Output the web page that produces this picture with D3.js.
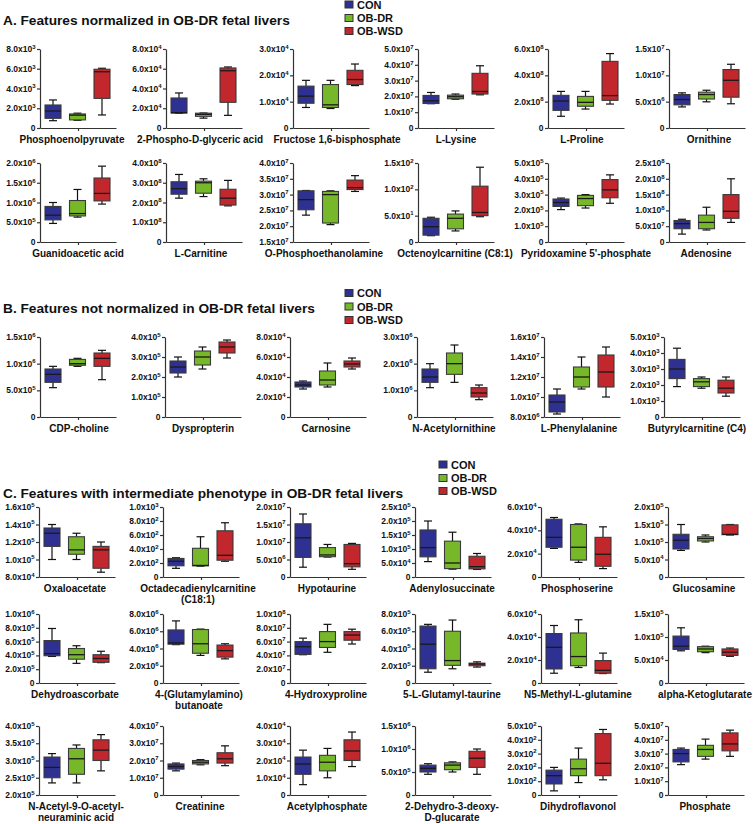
<!DOCTYPE html>
<html><head><meta charset="utf-8">
<script src="https://cdn.jsdelivr.net/npm/d3@7"></script>
<style>body{margin:0;background:#fff} svg{display:block} text{font-family:"Liberation Sans",Arial,sans-serif;font-weight:bold;fill:#111}</style>
</head><body><svg id="c" width="753" height="824"></svg>
<script>
// ---------- DATA ----------
const groups = ["CON", "OB-DR", "OB-WSD"];
const colors = ["#2e3192", "#77b82a", "#c1272d"];

// Section A
const namesA = ["Phosphoenolpyruvate", "2-Phospho-D-glyceric acid", "Fructose 1,6-bisphosphate", "L-Lysine", "L-Proline", "Ornithine",
  "Guanidoacetic acid", "L-Carnitine", "O-Phosphoethanolamine", "Octenoylcarnitine (C8:1)", "Pyridoxamine 5'-phosphate", "Adenosine"];
const yMinA = [0, 0, 0, 0, 0, 0, 0, 0, 1.5e7, 0, 0, 0];
const yMaxA = [8e3, 8e4, 3e4, 5e7, 6e8, 1.5e7, 2e6, 4e8, 4e7, 150, 5e5, 2.5e8];
const yStepA = [2e3, 2e4, 1e4, 1e7, 2e8, 5e6, 5e5, 1e8, 5e6, 50, 1e5, 5e7];
// [whisker low, Q1, median, Q3, whisker high]
const conA = [[0.74e3, 0.98e3, 1.72e3, 2.33e3, 2.84e3], [1.5e4, 1.52e4, 1.55e4, 3.04e4, 3.55e4], [0.78e4, 0.94e4, 1.21e4, 1.59e4, 1.81e4],
  [1.54e7, 1.55e7, 1.72e7, 2.06e7, 2.25e7], [0.89e8, 1.34e8, 2.05e8, 2.48e8, 2.78e8], [4.0e6, 4.4e6, 5.4e6, 6.35e6, 6.67e6],
  [0.47e6, 0.56e6, 0.68e6, 0.9e6, 1.0e6], [2.22e8, 2.42e8, 2.7e8, 3.05e8, 3.42e8], [2.35e7, 2.52e7, 2.84e7, 3.12e7, 3.13e7],
  [12, 13, 29, 45, 47], [2.05e5, 2.25e5, 2.5e5, 2.72e5, 2.78e5], [0.25e8, 0.42e8, 0.58e8, 0.68e8, 0.72e8]];
const drA = [[0.78e3, 0.82e3, 1.3e3, 1.42e3, 1.5e3], [1.0e4, 1.18e4, 1.38e4, 1.5e4, 1.52e4], [0.74e4, 0.78e4, 0.88e4, 1.65e4, 1.81e4],
  [1.82e7, 1.85e7, 1.98e7, 2.08e7, 2.15e7], [1.44e8, 1.65e8, 1.95e8, 2.4e8, 2.78e8], [4.97e6, 5.5e6, 6.35e6, 6.8e6, 7.17e6],
  [0.63e6, 0.66e6, 0.72e6, 1.05e6, 1.33e6], [2.3e8, 2.47e8, 3.0e8, 3.08e8, 3.2e8], [2.05e7, 2.1e7, 3.0e7, 3.1e7, 3.12e7],
  [21, 25, 45, 53, 59], [2.15e5, 2.3e5, 2.75e5, 2.95e5, 3.0e5], [0.38e8, 0.42e8, 0.62e8, 0.85e8, 1.1e8]];
const wsdA = [[1.32e3, 3.0e3, 5.7e3, 5.95e3, 6.05e3], [1.28e4, 2.6e4, 5.8e4, 6.08e4, 6.18e4], [1.61e4, 1.65e4, 1.84e4, 2.19e4, 2.43e4],
  [2.1e7, 2.15e7, 2.31e7, 3.46e7, 3.94e7], [1.82e8, 2.1e8, 2.46e8, 5.06e8, 5.65e8], [4.6e6, 5.85e6, 9.06e6, 11.1e6, 12.1e6],
  [0.96e6, 1.04e6, 1.23e6, 1.62e6, 1.92e6], [1.83e8, 1.87e8, 2.22e8, 2.67e8, 3.12e8], [3.1e7, 3.16e7, 3.22e7, 3.46e7, 3.6e7],
  [48, 50, 56, 106, 142], [2.45e5, 2.8e5, 3.3e5, 3.95e5, 4.25e5], [0.62e8, 0.75e8, 0.97e8, 1.5e8, 2.0e8]];

// Section B
const namesB = ["CDP-choline", "Dyspropterin", "Carnosine", "N-Acetylornithine", "L-Phenylalanine", "Butyrylcarnitine (C4)"];
const yMinB = [0, 0, 0, 0, 8e6, 0];
const yMaxB = [1.5e6, 4e5, 8e4, 3e6, 1.6e7, 5e3];
const yStepB = [5e5, 1e5, 2e4, 1e6, 2e6, 1e3];
const conB = [[0.55e6, 0.65e6, 0.8e6, 0.9e6, 0.95e6], [2.0e5, 2.2e5, 2.5e5, 2.8e5, 3.0e5], [2.8e4, 3.0e4, 3.2e4, 3.5e4, 3.6e4],
  [1.1e6, 1.3e6, 1.5e6, 1.8e6, 2.0e6], [0.83e7, 0.85e7, 0.95e7, 1.02e7, 1.08e7], [1.9e3, 2.4e3, 3.0e3, 3.6e3, 4.3e3]];
const drB = [[0.95e6, 0.97e6, 1.0e6, 1.08e6, 1.1e6], [2.4e5, 2.6e5, 3.0e5, 3.3e5, 3.5e5], [3.0e4, 3.2e4, 3.7e4, 4.6e4, 5.4e4],
  [1.3e6, 1.6e6, 2.0e6, 2.4e6, 2.7e6], [1.08e7, 1.1e7, 1.2e7, 1.3e7, 1.4e7], [1.8e3, 1.9e3, 2.2e3, 2.4e3, 2.5e3]];
const wsdB = [[0.7e6, 0.95e6, 1.1e6, 1.2e6, 1.25e6], [2.95e5, 3.2e5, 3.5e5, 3.75e5, 3.85e5], [4.8e4, 5.0e4, 5.3e4, 5.6e4, 5.9e4],
  [0.65e6, 0.75e6, 0.9e6, 1.1e6, 1.2e6], [1.0e7, 1.1e7, 1.25e7, 1.42e7, 1.5e7], [1.3e3, 1.5e3, 1.8e3, 2.3e3, 2.5e3]];

// Section C
const namesC = ["Oxaloacetate", "Octadecadienylcarnitine\n(C18:1)", "Hypotaurine", "Adenylosuccinate", "Phosphoserine", "Glucosamine",
  "Dehydroascorbate", "4-(Glutamylamino)\nbutanoate", "4-Hydroxyproline", "5-L-Glutamyl-taurine", "N5-Methyl-L-glutamine", "alpha-Ketoglutarate",
  "N-Acetyl-9-O-acetyl-\nneuraminic acid", "Creatinine", "Acetylphosphate", "2-Dehydro-3-deoxy-\nD-glucarate", "Dihydroflavonol", "Phosphate"];
const yMinC = [8e4, 0, 0, 0, 0, 0, 0, 0, 0, 0, 0, 0, 2e5, 0, 0, 0, 0, 0];
const yMaxC = [1.6e5, 1e3, 2e7, 2.5e5, 6e4, 2e5, 1e6, 8e6, 1e8, 8e5, 6e4, 1.5e5, 4e5, 4e7, 4e4, 1.5e6, 5e2, 5e7];
const yStepC = [2e4, 2e2, 5e6, 5e4, 2e4, 5e4, 2e5, 2e6, 2e7, 2e5, 2e4, 5e4, 5e4, 1e7, 1e4, 5e5, 1e2, 1e7];
const conC = [[1.0e5, 1.15e5, 1.3e5, 1.36e5, 1.4e5], [124, 160, 225, 265, 275], [0.28e7, 0.56e7, 1.12e7, 1.52e7, 1.8e7],
  [0.55e5, 0.72e5, 1.05e5, 1.68e5, 2.0e5], [2.45e4, 2.55e4, 3.4e4, 4.95e4, 5.1e4], [0.76e5, 0.8e5, 1.05e5, 1.22e5, 1.5e5],
  [3.85e5, 3.95e5, 4.25e5, 6.15e5, 7.9e5], [4.45e6, 4.5e6, 4.65e6, 6.15e6, 7.2e6], [4.1e7, 4.15e7, 5.25e7, 6.0e7, 6.5e7],
  [1.25e5, 1.65e5, 4.5e5, 6.6e5, 6.8e5], [0.85e4, 1.22e4, 3.1e4, 4.3e4, 5.0e4], [0.7e5, 0.73e5, 0.8e5, 1.02e5, 1.2e5],
  [2.35e5, 2.5e5, 2.8e5, 3.1e5, 3.2e5], [1.4e7, 1.5e7, 1.65e7, 1.8e7, 1.85e7], [0.6e4, 1.2e4, 1.8e4, 2.2e4, 2.6e4],
  [0.45e6, 0.5e6, 0.58e6, 0.65e6, 0.68e6], [30, 80, 140, 180, 200], [2.2e7, 2.4e7, 3.0e7, 3.3e7, 3.4e7]];
const drC = [[1.0e5, 1.06e5, 1.11e5, 1.26e5, 1.3e5], [155, 160, 165, 410, 575], [0.57e7, 0.58e7, 0.63e7, 0.84e7, 0.93e7],
  [0.28e5, 0.3e5, 0.5e5, 1.28e5, 1.6e5], [1.25e4, 1.45e4, 2.55e4, 4.5e4, 4.55e4], [1.0e5, 1.03e5, 1.1e5, 1.15e5, 1.2e5],
  [2.85e5, 3.45e5, 4.1e5, 5.0e5, 5.4e5], [3.2e6, 3.45e6, 4.55e6, 6.2e6, 6.25e6], [4.45e7, 5.15e7, 6.0e7, 7.45e7, 8.5e7],
  [1.65e5, 2.05e5, 2.6e5, 6.0e5, 7.3e5], [1.35e4, 1.5e4, 2.3e4, 4.35e4, 5.5e4], [0.66e5, 0.68e5, 0.74e5, 0.79e5, 0.8e5],
  [2.35e5, 2.6e5, 3.05e5, 3.35e5, 3.45e5], [1.75e7, 1.8e7, 1.9e7, 2.0e7, 2.05e7], [1.0e4, 1.4e4, 1.9e4, 2.3e4, 2.7e4],
  [0.5e6, 0.55e6, 0.65e6, 0.7e6, 0.72e6], [90, 140, 190, 260, 340], [2.6e7, 2.8e7, 3.3e7, 3.6e7, 4.05e7]];
const wsdC = [[0.855e5, 0.9e5, 1.11e5, 1.15e5, 1.2e5], [225, 240, 310, 660, 775], [0.22e7, 0.29e7, 0.38e7, 0.93e7, 0.96e7],
  [0.27e5, 0.29e5, 0.37e5, 0.74e5, 0.84e5], [0.72e4, 0.92e4, 1.95e4, 3.4e4, 4.3e4], [1.2e5, 1.21e5, 1.22e5, 1.49e5, 1.5e5],
  [2.95e5, 3.0e5, 3.55e5, 4.1e5, 4.6e5], [2.8e6, 3.0e6, 3.75e6, 4.4e6, 4.55e6], [5.65e7, 6.2e7, 6.95e7, 7.45e7, 7.8e7],
  [1.85e5, 2.0e5, 2.2e5, 2.3e5, 2.45e5], [0.82e4, 0.85e4, 1.1e4, 1.95e4, 2.6e4], [0.58e5, 0.6e5, 0.67e5, 0.74e5, 0.76e5],
  [2.7e5, 3.0e5, 3.3e5, 3.6e5, 3.75e5], [1.7e7, 1.85e7, 2.1e7, 2.45e7, 2.85e7], [1.65e4, 2.0e4, 2.55e4, 3.2e4, 3.65e4],
  [0.45e6, 0.6e6, 0.8e6, 0.95e6, 1.0e6], [110, 140, 230, 445, 475], [2.8e7, 3.2e7, 3.7e7, 4.5e7, 4.7e7]];

const titles = ["A. Features normalized in OB-DR fetal livers", "B. Features not normalized in OB-DR fetal livers",
  "C. Features with intermediate phenotype in OB-DR fetal livers"];

// ---------- LAYOUT ----------
const sections = [
  { title: titles[0], titleY: 25, legX: 345, legY: [4.5, 18, 31], rows: [[49, 128], [163, 242]],
    cols: [40, 166, 293, 418, 548, 669], labelDx: [-6, -4, 6, 0, -4, 2, 0, -3, -7, -1, 0, -1],
    names: namesA, yMin: yMinA, yMax: yMaxA, yStep: yStepA, data: [conA, drA, wsdA] },
  { title: titles[1], titleY: 313, legX: 345, legY: [293, 306.5, 320], rows: [[337, 417]],
    cols: [40, 165, 290, 417, 544, 664], labelDx: [1, 0, -2, -1, -3, -5],
    names: namesB, yMin: yMinB, yMax: yMaxB, yStep: yStepB, data: [conB, drB, wsdB] },
  { title: titles[2], titleY: 498, legX: 439, legY: [464.5, 478, 491], rows: [[507, 577], [614, 683], [726, 795]],
    cols: [39, 163, 290, 415, 541, 668], labelDx: [-2, -3, -1, -1, -2, -2, -2, -2, -2, -1, -1, -1, -1, -1, -1, -1, -1, -1],
    names: namesC, yMin: yMinC, yMax: yMaxC, yStep: yStepC, data: [conC, drC, wsdC] }
];

const svg = d3.select("#c");
const AX = "#333";

function fmt(t, v) {
  if (Math.abs(v) < 1e-12) { t.text("0"); return; }
  const e = Math.floor(Math.log10(v) + 1e-9);
  const m = v / Math.pow(10, e);
  t.append("tspan").text(m.toFixed(1) + "x10");
  t.append("tspan").attr("dy", -3.2).attr("font-size", 6).text(e);
}

function panel(x0, top, bottom, name, ymin, ymax, step, stats, ldx) {
  const g = svg.append("g");
  const W = 76;
  const y = d3.scaleLinear().domain([ymin, ymax]).range([bottom, top]);
  const x = d3.scalePoint().domain(groups).range([x0 + 13, x0 + 62]);
  const n = Math.round((ymax - ymin) / step);
  const ticks = d3.range(0, n + 1).map(i => ymin + i * step);

  const ya = g.append("g").attr("transform", `translate(${x0},0)`)
    .call(d3.axisLeft(y).tickValues(ticks).tickSize(3).tickSizeOuter(0).tickFormat(""));
  ya.selectAll("path,line").attr("stroke", AX).attr("stroke-width", 1.2);

  const xs = d3.scaleLinear().domain([0, 1]).range([x0, x0 + W]);
  const xa = g.append("g").attr("transform", `translate(0,${bottom})`)
    .call(d3.axisBottom(xs).tickValues([0.5]).tickSize(3).tickSizeOuter(0).tickFormat(""));
  xa.selectAll("path,line").attr("stroke", AX).attr("stroke-width", 1.2);

  ticks.forEach(v => {
    const t = g.append("text").attr("x", x0 - 4.5).attr("y", y(v) + 3)
      .attr("text-anchor", "end").attr("font-size", 8.5);
    fmt(t, v);
  });

  const bw = 16, cw = 8;
  groups.forEach((gr, i) => {
    const s = stats[i];
    const cx = x(gr);
    const bg = g.append("g");
    bg.append("line").attr("x1", cx).attr("x2", cx).attr("y1", y(s[0])).attr("y2", y(s[1]))
      .attr("stroke", "#111").attr("stroke-width", 1.2);
    bg.append("line").attr("x1", cx).attr("x2", cx).attr("y1", y(s[3])).attr("y2", y(s[4]))
      .attr("stroke", "#111").attr("stroke-width", 1.2);
    [s[0], s[4]].forEach(v => bg.append("line").attr("x1", cx - cw / 2).attr("x2", cx + cw / 2)
      .attr("y1", y(v)).attr("y2", y(v)).attr("stroke", "#111").attr("stroke-width", 1.2));
    bg.append("rect").attr("x", cx - bw / 2).attr("width", bw)
      .attr("y", y(s[3])).attr("height", Math.max(0.5, y(s[1]) - y(s[3])))
      .attr("fill", colors[i]).attr("stroke", "#3a3a3a").attr("stroke-width", 1.1);
    bg.append("line").attr("x1", cx - bw / 2).attr("x2", cx + bw / 2)
      .attr("y1", y(s[2])).attr("y2", y(s[2])).attr("stroke", "#1a1a1a").attr("stroke-width", 1.3);
  });

  const lines = name.split("\n");
  const lx = x0 + W / 2 + ldx;
  const lt = g.append("text").attr("text-anchor", "middle").attr("font-size", 10)
    .attr("x", lx).attr("y", bottom + 14.5);
  lines.forEach((l, k) => lt.append("tspan").attr("x", lx).attr("dy", k === 0 ? 0 : 11.5).text(l));
}

sections.forEach(sec => {
  svg.append("text").attr("x", 3).attr("y", sec.titleY).attr("font-size", 13.7).text(sec.title);
  groups.forEach((gr, i) => {
    svg.append("rect").attr("x", sec.legX).attr("y", sec.legY[i] - 3.5).attr("width", 8).attr("height", 7)
      .attr("fill", colors[i]).attr("stroke", "#333").attr("stroke-width", 1);
    svg.append("text").attr("x", sec.legX + 12).attr("y", sec.legY[i] + 4).attr("font-size", 11).text(gr);
  });
  sec.names.forEach((nm, k) => {
    const r = Math.floor(k / 6), c = k % 6;
    const [top, bottom] = sec.rows[r];
    const stats = sec.data.map(d => d[k]);
    panel(sec.cols[c], top, bottom, nm, sec.yMin[k], sec.yMax[k], sec.yStep[k], stats, sec.labelDx[k]);
  });
});
</script></body></html>
